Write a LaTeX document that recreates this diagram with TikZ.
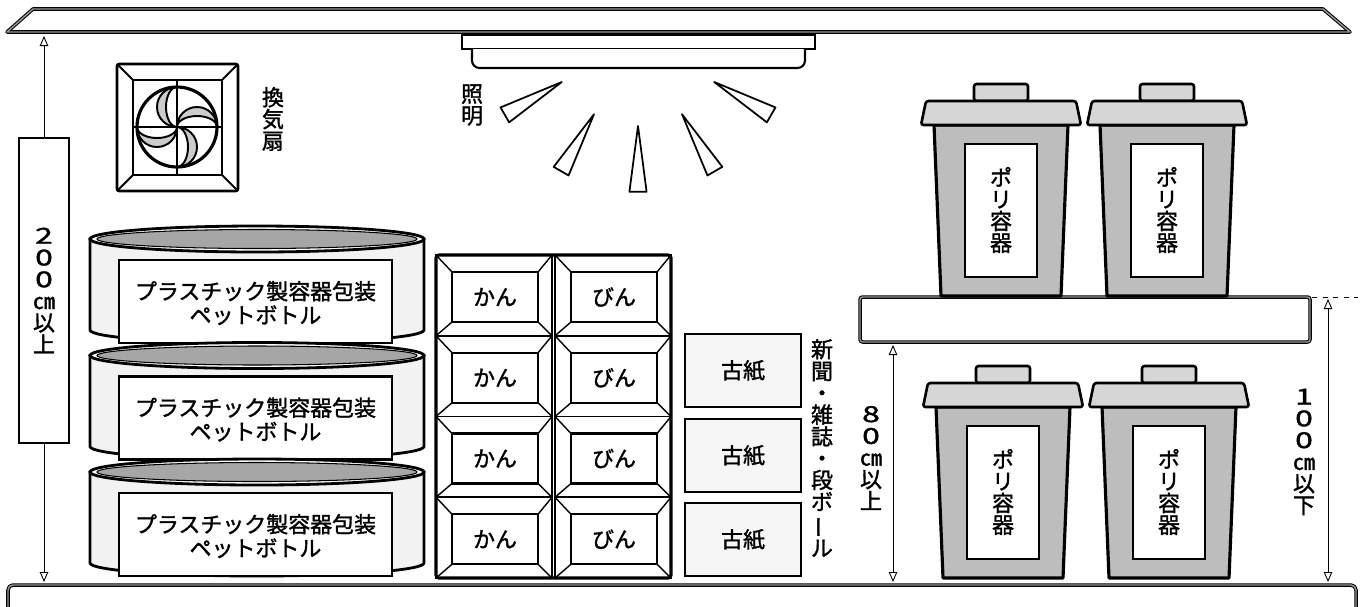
\documentclass[tikz,border=0pt]{standalone}
\usepackage{fontspec}
\usepackage{graphicx}
\newfontfamily\jp{Noto Sans CJK JP}[FakeBold=1.5]
\usetikzlibrary{arrows.meta}

% wide upright digits for the height marks
\newcommand\widedigit[1]{\scalebox{1.45}[1]{#1}}
% long vowel mark set upright
\newcommand\tatebar{\rotatebox[origin=c]{90}{ー}}

\tikzset{
  wall/.style={draw=black,line width=0.6pt,double=black!40,double distance=0.8pt,line join=round},
  bin/.style={draw=black,line width=1.8pt,fill=black!26,line join=round},
  lid/.style={draw=black,line width=1.5pt,fill=black!16,line join=round,rounded corners=0.5mm},
  tag/.style={draw=black,line width=1.4pt,fill=white},
  txt/.style={font=\jp\fontsize{12.5}{13.6}\selectfont,align=center,inner sep=0pt},
  vtxt/.style={font=\jp\fontsize{12.5}{12.4}\selectfont,align=center,inner sep=0pt},
  dimline/.style={line width=0.5pt,{Triangle[open,length=2mm,width=1.7mm]}-{Triangle[open,length=2mm,width=1.7mm]}},
  dimhead/.style={line width=0.5pt,-{Triangle[open,length=2mm,width=1.7mm]}},
}

\begin{document}
\begin{tikzpicture}[x=0.02cm,y=-0.02cm]
\useasboundingbox (0,0) rectangle (1361,606);

% ceiling, floor, shelf
\draw[wall] (7,32) -- (33,9) -- (1323,9) -- (1350,32) -- cycle;
\draw[wall,rounded corners=1mm] (8,625) -- (8,585) -- (1356,585) -- (1356,625);
\draw[wall,rounded corners=0.5mm,fill=white] (860,297) rectangle (1310,342);

% ventilation fan
\draw[line width=1.6pt,rounded corners=0.5mm] (117,64) rectangle (238,191);
\draw[line width=1.6pt] (133,80) rectangle (222,175);
\draw[line width=1.1pt] (117,64) -- (133,80) (238,64) -- (222,80)
  (117,191) -- (133,175) (238,191) -- (222,175);
\draw[line width=1.8pt] (177,127) circle[radius=40];
\draw[line width=1.6pt] (177,80) -- (177,175) (133,127) -- (222,127);
\foreach \r in {0,90,180,270}
  \draw[line width=1.1pt,fill=black!20,rotate around={\r:(177,127)}]
    (177,87) arc[start angle=270,end angle=90,radius=20]
    arc[start angle=90,end angle=270,x radius=11,y radius=20] -- cycle;
\node[vtxt] (fan) at (273,119) {換\\気\\扇};

% ceiling light
\draw[line width=1.2pt,fill=white] (462,35) rectangle (815,49);
\draw[line width=1.2pt,fill=white,rounded corners=1.5mm] (472,49) -- (472,68) -- (805,68) -- (805,49);
\node[vtxt] (light) at (472,105) {照\\明};
\foreach \a in {30,60,90,120,150}
  \draw[line width=1pt,fill=white,line join=round] ([shift={(638,38)}]\a:88)
    -- ([shift={(638,38)}]\a-3.2:154) -- ([shift={(638,38)}]\a+3.2:154) -- cycle;

% plastic drums
\foreach \i/\yt in {1/239,2/355.5,3/472} {
  \pgfmathsetmacro\yb{\yt+91}
  \draw[line width=1.6pt,fill=black!5] (90,\yt) -- (90,\yb)
    arc[start angle=180,end angle=0,x radius=167,y radius=13] -- (424,\yt) -- cycle;
  \draw[line width=1.6pt,fill=white] (257,\yt) ellipse[x radius=167,y radius=13];
  \draw[line width=0.6pt,fill=black!35] (257,\yt) ellipse[x radius=160,y radius=9.5];
  \draw[tag] (119,\yt+21) rectangle (392,\yb+13);
  \node[txt] (pet\i) at (255.5,\yt+64) {プラスチック製容器包装\\ペットボトル};
}

% cans and bottles
\foreach \x/\t/\n in {436/かん/can,555/びん/bottle}
  \foreach \r in {1,...,4} {
    \pgfmathsetmacro\y{255+80.75*(\r-1)}
    \draw[line width=1.1pt] (\x,\y) rectangle (\x+116,\y+80.75);
    \draw[line width=0.8pt] (\x,\y) -- (\x+16,\y+17) (\x+116,\y) -- (\x+102,\y+17)
      (\x,\y+80.75) -- (\x+16,\y+67) (\x+116,\y+80.75) -- (\x+102,\y+67);
    \draw[tag] (\x+16,\y+17) rectangle (\x+102,\y+67);
    \node[txt] (\n\r) at (\x+59,\y+42) {\t};
  }
\draw[line width=1.8pt,rounded corners=0.6mm] (436,255) rectangle (671,578);

% waste paper
\foreach \i/\y in {1/334,2/419,3/503} {
  \draw[line width=1.6pt,fill=black!4] (685,\y) rectangle (801,\y+73);
  \node[txt] (paper\i) at (743,\y+36.5) {古紙};
}
\node[vtxt] (papers) at (822,448) {新\\聞\\・\\雑\\誌\\・\\段\\ボ\\\tatebar\\ル};

% poly containers
\foreach \n/\bx/\by in {1/1001/84,2/1167/84,3/1003/366,4/1169/366} {
  \begin{scope}[shift={(\bx,\by)}]
    \draw[bin] (-67,41) -- (67,41) -- (60,212) -- (-60,212) -- cycle;
    \draw[lid] (-27,0) rectangle (27,17);
    \draw[lid] (-75,17) -- (75,17) -- (80,41) -- (-80,41) -- cycle;
    \draw[tag] (-36,60) rectangle (36,193);
    \node[vtxt] (poly\n) at (0,126) {ポ\\リ\\容\\器};
  \end{scope}
}

% heights
\node[vtxt,draw,line width=1.1pt,minimum width=1cm,minimum height=6.1cm] (h200) at (44,290.5)
  {\widedigit{2}\\\widedigit{0}\\\widedigit{0}\\㎝\\以\\上};
\coordinate (top200) at (44,36);
\coordinate (bot200) at (44,582);
\draw[dimhead] (h200.north) -- (top200);
\draw[dimhead] (h200.south) -- (bot200);

\coordinate (s80) at (893,345);
\coordinate (f80) at (893,582);
\draw[dimline] (s80) -- (f80);
\node[vtxt] (h80) at (871,458) {\widedigit{8}\\\widedigit{0}\\㎝\\以\\上};

\coordinate (edge) at (1312,297);
\coordinate (mark) at (1358,297);
\draw[dashed,line width=0.5pt] (edge) -- (mark);
\coordinate (s100) at (1328,299);
\coordinate (f100) at (1328,582);
\draw[dimline] (s100) -- (f100);
\node[vtxt] (h100) at (1304,452) {\widedigit{1}\\\widedigit{0}\\\widedigit{0}\\㎝\\以\\下};
\end{tikzpicture}
\end{document}
